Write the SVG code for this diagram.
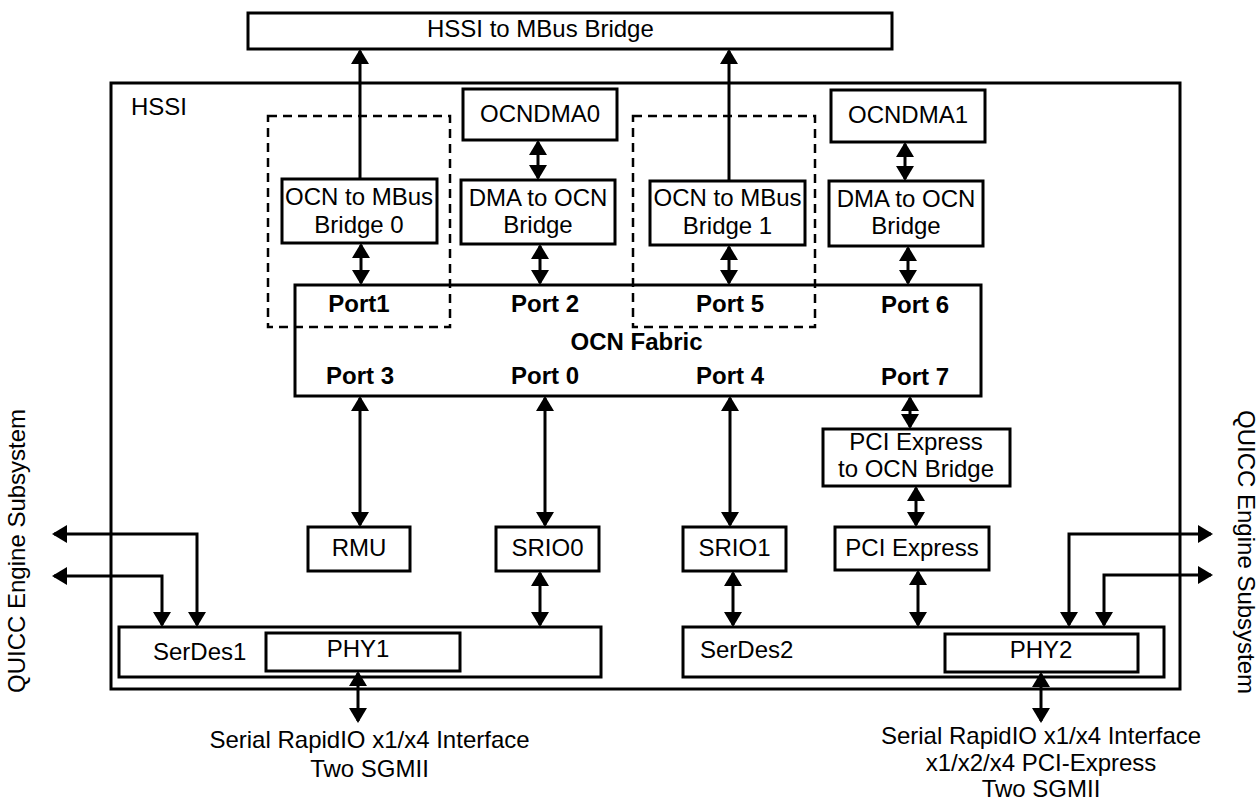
<svg xmlns="http://www.w3.org/2000/svg" width="1259" height="800" viewBox="0 0 1259 800">
<style>
.b{fill:none;stroke:#000;stroke-width:3}
.d{fill:none;stroke:#000;stroke-width:2.5;stroke-dasharray:9 6}
.c{fill:none;stroke:#000;stroke-width:3;marker-end:url(#ah)}
.c2{fill:none;stroke:#000;stroke-width:3;marker-start:url(#ah);marker-end:url(#ah)}
text{font-family:"Liberation Sans",Arial,Helvetica,sans-serif;font-size:24px;fill:#000}
.m{text-anchor:middle}
.bd{font-weight:bold}
</style>
<defs>
<marker id="ah" viewBox="0 0 15 18" refX="13" refY="9" markerWidth="15" markerHeight="18" markerUnits="userSpaceOnUse" orient="auto-start-reverse">
<path d="M0,0 L15,9 L0,18 z" fill="#000"/>
</marker>
</defs>
<rect width="1259" height="800" fill="#fff"/>

<g id="hssi">
<rect class="b" x="111" y="83" width="1069" height="606"/>
<text x="131" y="115">HSSI</text>
</g>
<g id="hssi-mbus">
<rect class="b" x="248" y="13" width="644" height="36"/>
<text x="427" y="37">HSSI to MBus Bridge</text>
</g>
<g id="dash0"><rect class="d" x="268" y="116" width="182" height="211"/></g>
<g id="dash1"><rect class="d" x="633" y="116" width="182" height="211"/></g>
<g id="ocndma0">
<rect class="b" x="463" y="89" width="154" height="51"/>
<text class="m" x="540" y="122">OCNDMA0</text>
</g>
<g id="ocndma1">
<rect class="b" x="831" y="90" width="154" height="52"/>
<text class="m" x="908" y="123">OCNDMA1</text>
</g>
<g id="ocnmbus0">
<rect class="b" x="282" y="179" width="155" height="64"/>
<text class="m" x="359" y="205">OCN to MBus</text>
<text class="m" x="359" y="233">Bridge 0</text>
</g>
<g id="dma0">
<rect class="b" x="461" y="180" width="154" height="64"/>
<text class="m" x="538" y="206">DMA to OCN</text>
<text class="m" x="538" y="233">Bridge</text>
</g>
<g id="ocnmbus1">
<rect class="b" x="650" y="181" width="155" height="64"/>
<text class="m" x="727.5" y="206">OCN to MBus</text>
<text class="m" x="727.5" y="234">Bridge 1</text>
</g>
<g id="dma1">
<rect class="b" x="829" y="181" width="154" height="65"/>
<text class="m" x="906" y="207">DMA to OCN</text>
<text class="m" x="906" y="234">Bridge</text>
</g>
<g id="fabric">
<rect class="b" x="295" y="285" width="686" height="111"/>
<text class="m bd" x="359" y="312">Port1</text>
<text class="m bd" x="545" y="312">Port 2</text>
<text class="m bd" x="730" y="312">Port 5</text>
<text class="m bd" x="915" y="313">Port 6</text>
<text class="m bd" x="636.5" y="350">OCN Fabric</text>
<text class="m bd" x="360" y="384">Port 3</text>
<text class="m bd" x="545" y="384">Port 0</text>
<text class="m bd" x="730" y="384">Port 4</text>
<text class="m bd" x="915" y="385">Port 7</text>
</g>
<g id="pcie-ocn">
<rect class="b" x="823" y="429" width="187" height="57"/>
<text class="m" x="916" y="450">PCI Express</text>
<text class="m" x="916" y="477">to OCN Bridge</text>
</g>
<g id="rmu">
<rect class="b" x="308" y="527" width="102" height="44"/>
<text class="m" x="359" y="556">RMU</text>
</g>
<g id="srio0">
<rect class="b" x="496" y="527" width="103" height="44"/>
<text class="m" x="547.5" y="556">SRIO0</text>
</g>
<g id="srio1">
<rect class="b" x="683" y="527" width="103" height="44"/>
<text class="m" x="734.5" y="556">SRIO1</text>
</g>
<g id="pcie">
<rect class="b" x="835" y="527" width="154" height="43"/>
<text class="m" x="912" y="556">PCI Express</text>
</g>
<g id="serdes1">
<rect class="b" x="119" y="627" width="482" height="50"/>
<text x="153" y="660">SerDes1</text>
</g>
<g id="phy1">
<rect class="b" x="266" y="633" width="194" height="38"/>
<text class="m" x="358" y="657">PHY1</text>
</g>
<g id="serdes2">
<rect class="b" x="683" y="627" width="481" height="50"/>
<text x="700" y="658">SerDes2</text>
</g>
<g id="phy2">
<rect class="b" x="945" y="634" width="193" height="38"/>
<text class="m" x="1041" y="658">PHY2</text>
</g>
<g id="iface1">
<text class="m" x="369.5" y="748">Serial RapidIO x1/x4 Interface</text>
<text class="m" x="369.5" y="776.5">Two SGMII</text>
</g>
<g id="iface2">
<text class="m" x="1041" y="744">Serial RapidIO x1/x4 Interface</text>
<text class="m" x="1041" y="771">x1/x2/x4 PCI-Express</text>
<text class="m" x="1041" y="797">Two SGMII</text>
</g>
<g id="quicc-left">
<text transform="translate(25,693) rotate(-90)">QUICC Engine Subsystem</text>
</g>
<g id="quicc-right">
<text transform="translate(1238,410) rotate(90)">QUICC Engine Subsystem</text>
</g>

<g id="connectors">
<path class="c" d="M360,179 V51"/>
<path class="c" d="M729,181 V51"/>
<path class="c2" d="M538,142 V178"/>
<path class="c2" d="M361,245 V283"/>
<path class="c2" d="M540,246 V283"/>
<path class="c2" d="M729,247 V283"/>
<path class="c2" d="M905,144 V179"/>
<path class="c2" d="M908,248 V283"/>
<path class="c2" d="M360,398 V525"/>
<path class="c2" d="M545,398 V525"/>
<path class="c2" d="M730,398 V525"/>
<path class="c2" d="M910,398 V427"/>
<path class="c2" d="M916,488 V525"/>
<path class="c2" d="M540,573 V625"/>
<path class="c2" d="M733,573 V625"/>
<path class="c2" d="M918,572 V625"/>
<path class="c2" d="M358,673 V721"/>
<path class="c2" d="M1041,674 V721"/>
<path class="c2" d="M54,534 H197 V625"/>
<path class="c2" d="M54,576 H162 V625"/>
<path class="c2" d="M1211,534 H1069 V625"/>
<path class="c2" d="M1211,575 H1104 V625"/>
</g>
</svg>
